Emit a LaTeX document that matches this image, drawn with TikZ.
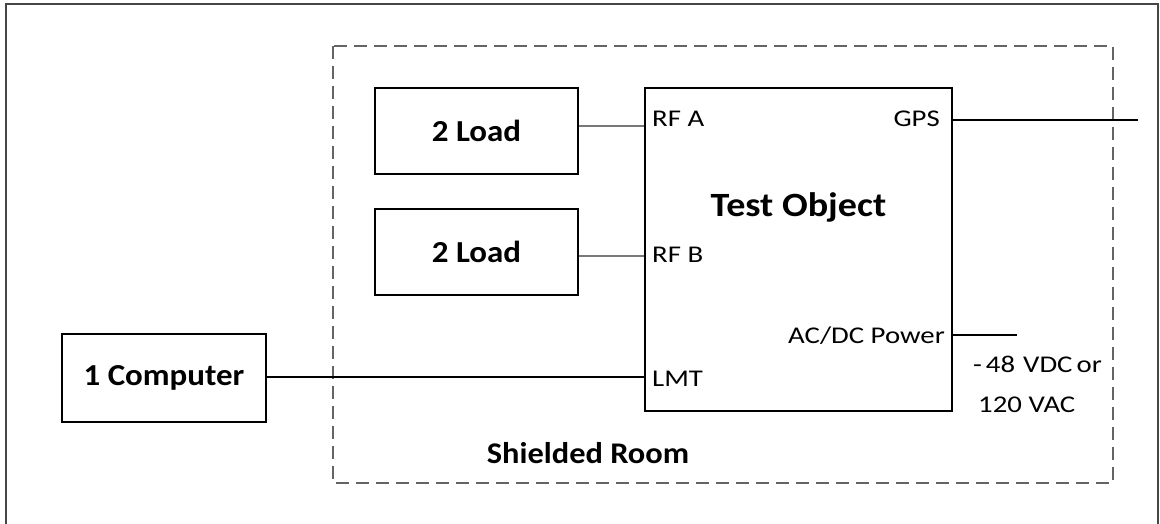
\documentclass[tikz,border=0pt]{standalone}
\usepackage{fontspec}
\setmainfont{Carlito}
\newfontfamily\regf[FakeStretch=1.2]{Carlito}
\newfontfamily\bldf[FakeStretch=1.08]{Carlito}
\newfontfamily\titf[FakeStretch=1.12]{Carlito}
\definecolor{framegray}{RGB}{70,70,70}
\definecolor{dashgray}{RGB}{100,100,100}
\definecolor{wiregray}{RGB}{120,120,120}
\tikzset{
  boxnode/.style={draw=black,line width=1.6pt,rectangle,inner sep=0pt,font=\bldf\bfseries\fontsize{30.5}{34}\selectfont},
  portlbl/.style={inner sep=0pt,font=\regf\fontsize{24}{28}\selectfont},
  wire/.style={draw=black,line width=1.2pt},
  rfwire/.style={draw=wiregray,line width=2.6pt},
  roomline/.style={draw=dashgray,line width=2.2pt,dash pattern=on 13pt off 7pt},
  frameline/.style={draw=framegray,line width=2.4pt}
}
\begin{document}
\begin{tikzpicture}[x=1pt,y=-1pt]
\useasboundingbox (0,0) rectangle (1160,524);
% outer frame (bottom edge lies beyond the picture)
\draw[frameline] (6,530) -- (6,4) -- (1158,4) -- (1158,530);
% shielded room
\draw[roomline] (333,46) rectangle (1113,483);
\node[inner sep=0pt,anchor=base,font=\bldf\bfseries\fontsize{30}{34}\selectfont] (room) at (588,463) {Shielded Room};
% boxes
\node[boxnode,minimum width=204pt,minimum height=88pt] (computer) at (164,378) {1 Computer};
\node[boxnode,minimum width=203pt,minimum height=86pt] (load1) at (476.5,131) {2 Load};
\node[boxnode,minimum width=203pt,minimum height=86pt] (load2) at (476.5,252) {2 Load};
\node[draw=black,line width=1.6pt,rectangle,inner sep=0pt,minimum width=307pt,minimum height=323pt] (test) at (798.5,249.5) {};
\node[inner sep=0pt,anchor=base,font=\titf\bfseries\fontsize{34}{38}\selectfont] (testlbl) at (798.5,216.7) {Test Object};
% port labels
\node[portlbl,anchor=base west] (rfalbl) at (652,127) {RF A};
\node[portlbl,anchor=base west] (rfblbl) at (652,262) {RF B};
\node[portlbl,anchor=base west] (lmtlbl) at (652,386) {LMT};
\node[portlbl,anchor=base east] (gpslbl) at (940,127) {GPS};
\node[portlbl,anchor=base east] (pwrlbl) at (945,343) {AC/DC Power};
\node[portlbl,anchor=base west] (volt1) at (973,372) {-\hspace{4pt}48\hspace{8pt}VDC\hspace{4pt}or};
\node[portlbl,anchor=base west] (volt2) at (978,412) {120 VAC};
% port coordinates
\coordinate (rfa) at (test.west |- 0,126);
\coordinate (rfb) at (test.west |- 0,256);
\coordinate (lmt) at (test.west |- 0,377);
\coordinate (gps) at (test.east |- 0,120);
\coordinate (pwr) at (test.east |- 0,335);
\coordinate (gpsend) at (1138,120);
\coordinate (pwrend) at (1017,335);
% connectors
\draw[rfwire] (load1.east |- rfa) -- (rfa);
\draw[rfwire] (load2.east |- rfb) -- (rfb);
\draw[wire] (computer.east |- lmt) -- (lmt);
\draw[wire] (gps) -- (gpsend);
\draw[wire] (pwr) -- (pwrend);
\end{tikzpicture}
\end{document}
